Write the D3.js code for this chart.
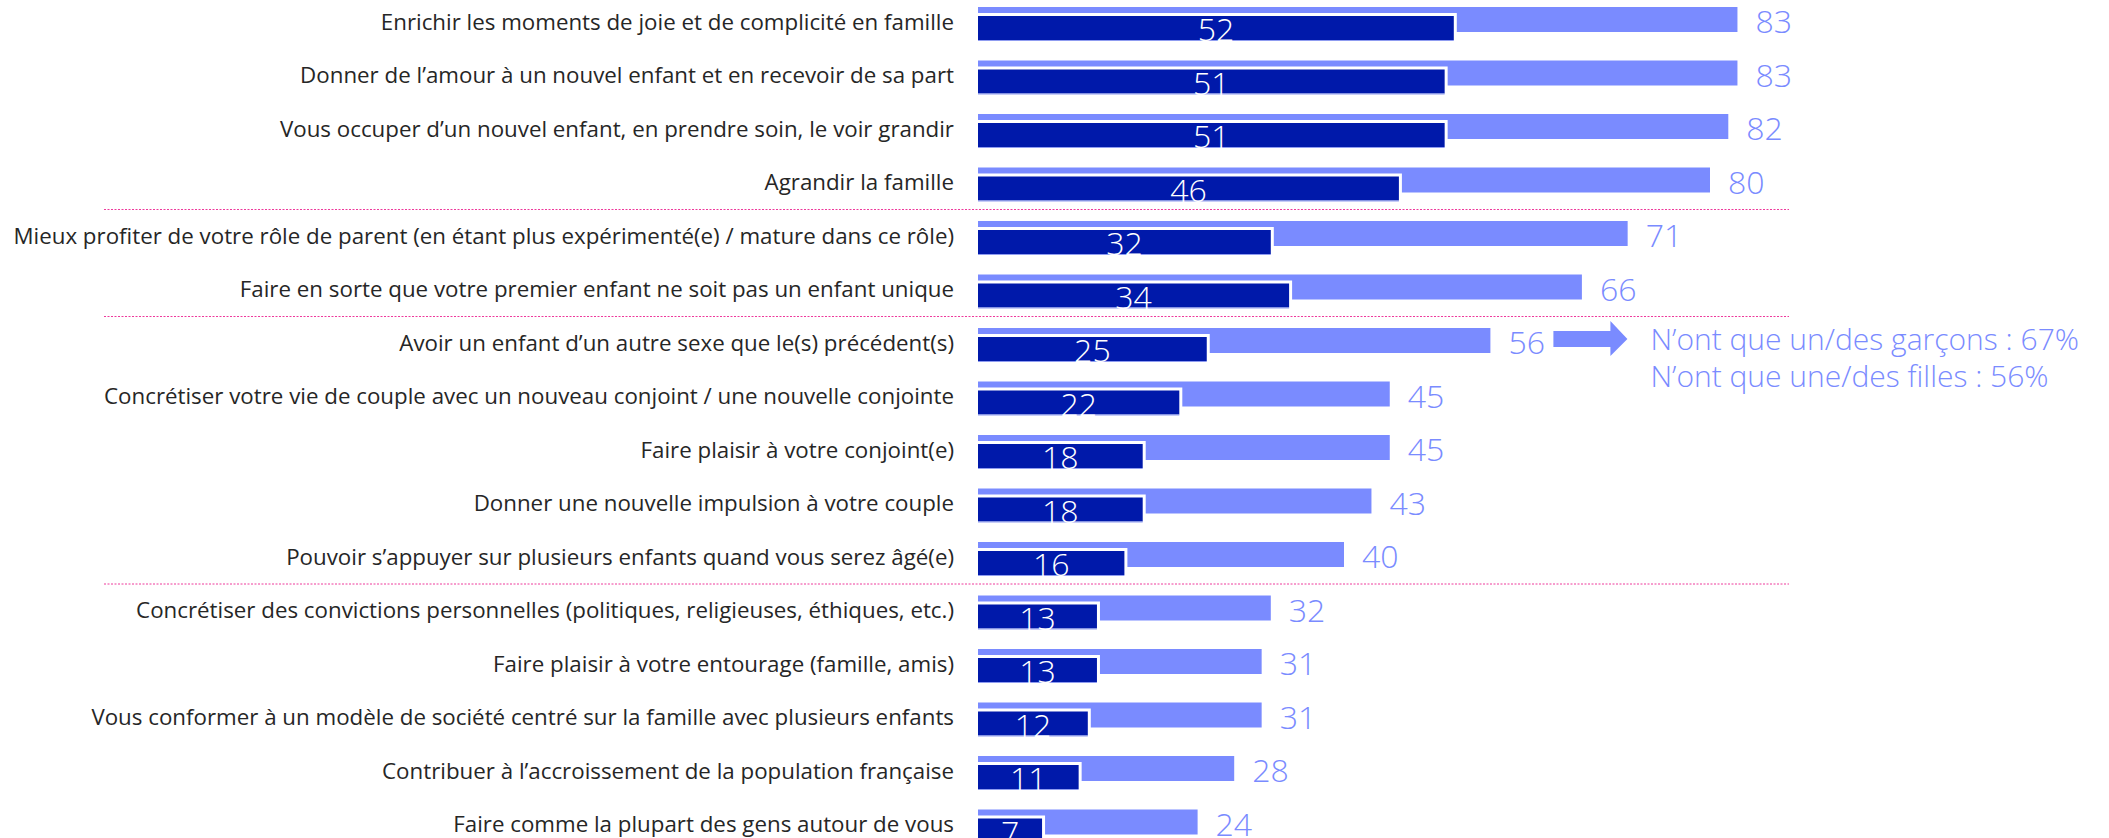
<!DOCTYPE html>
<html lang="fr">
<head>
<meta charset="utf-8">
<title>Raisons d'avoir un enfant supplémentaire</title>
<script src="https://cdn.jsdelivr.net/npm/d3@7/dist/d3.min.js"></script>
<style>
  html, body { margin: 0; padding: 0; background: #ffffff; }
  svg { display: block; }
</style>
</head>
<body>
<svg id="chart" width="2109" height="838"></svg>
<script>
// Motivations, from the most to the least cited
const categories = [
  "Enrichir les moments de joie et de complicité en famille",
  "Donner de l’amour à un nouvel enfant et en recevoir de sa part",
  "Vous occuper d’un nouvel enfant, en prendre soin, le voir grandir",
  "Agrandir la famille",
  "Mieux profiter de votre rôle de parent (en étant plus expérimenté(e) / mature dans ce rôle)",
  "Faire en sorte que votre premier enfant ne soit pas un enfant unique",
  "Avoir un enfant d’un autre sexe que le(s) précédent(s)",
  "Concrétiser votre vie de couple avec un nouveau conjoint / une nouvelle conjointe",
  "Faire plaisir à votre conjoint(e)",
  "Donner une nouvelle impulsion à votre couple",
  "Pouvoir s’appuyer sur plusieurs enfants quand vous serez âgé(e)",
  "Concrétiser des convictions personnelles (politiques, religieuses, éthiques, etc.)",
  "Faire plaisir à votre entourage (famille, amis)",
  "Vous conformer à un modèle de société centré sur la famille avec plusieurs enfants",
  "Contribuer à l’accroissement de la population française",
  "Faire comme la plupart des gens autour de vous"
];

// Total citations (%)
const totalValues = [83, 83, 82, 80, 71, 66, 56, 45, 45, 43, 40, 32, 31, 31, 28, 24];

// Of which "tout à fait" (%)
const strongValues = [52, 51, 51, 46, 32, 34, 25, 22, 18, 18, 16, 13, 13, 12, 11, 7];

// Group boundaries: a dotted rule is drawn before these rows
const groupBreaks = [4, 6, 11];

// Detail shown next to the "autre sexe" row
const noteRow = 6;
const noteLines = [
  "N’ont que un/des garçons : 67%",
  "N’ont que une/des filles : 56%"
];

const COLOR_TOTAL = "#7a8bff";
const COLOR_STRONG = "#0019aa";
const COLOR_TEXT = "#262626";
const COLOR_RULE = "#ee3a9c";
const FONT = "'Open Sans', 'Noto Sans', 'DejaVu Sans', sans-serif";

const svg = d3.select("#chart");

const x = d3.scaleLinear().domain([0, 100]).range([978, 1893]);
const y = d3.scaleBand()
  .domain(categories)
  .range([7, 7 + categories.length * 53.5])
  .paddingInner(0)
  .paddingOuter(0);

const rows = categories.map((c, i) => ({
  cat: c, total: totalValues[i], strong: strongValues[i], i
}));

// Category labels, font size chosen so the longest label fills the label column
const labelRight = 954;
const labelWidth = 941;
const labels = svg.append("g")
  .attr("font-family", FONT)
  .attr("fill", COLOR_TEXT);

const probe = labels.append("text").attr("font-size", 20).text(categories[0]);
const longest = d3.max(categories, c => { probe.text(c); return probe.node().getComputedTextLength(); });
probe.remove();
const labelSize = Math.min(24, 20 * labelWidth / longest);

labels.selectAll("text")
  .data(rows)
  .join("text")
  .attr("x", labelRight)
  .attr("y", d => y(d.cat) + 14)
  .attr("text-anchor", "end")
  .attr("dominant-baseline", "central")
  .attr("font-size", labelSize)
  .text(d => d.cat);

// Dotted group separators
svg.append("g")
  .selectAll("line")
  .data(groupBreaks)
  .join("line")
  .attr("x1", 104)
  .attr("x2", 1789)
  .attr("y1", i => y(categories[i]) - 11.5)
  .attr("y2", i => y(categories[i]) - 11.5)
  .attr("stroke", COLOR_RULE)
  .attr("stroke-width", 1)
  .attr("stroke-dasharray", "2 1.5");

// Total bars (light)
svg.append("g")
  .selectAll("rect")
  .data(rows)
  .join("rect")
  .attr("x", x(0))
  .attr("y", d => y(d.cat))
  .attr("width", d => x(d.total) - x(0))
  .attr("height", 25)
  .attr("fill", COLOR_TOTAL);

// White halo behind the strong bars
svg.append("g")
  .selectAll("rect")
  .data(rows)
  .join("rect")
  .attr("x", x(0))
  .attr("y", d => y(d.cat) + 6)
  .attr("width", d => x(d.strong) - x(0) + 3)
  .attr("height", 27)
  .attr("fill", "#ffffff");

// Strong bars (dark)
svg.append("g")
  .selectAll("rect")
  .data(rows)
  .join("rect")
  .attr("x", x(0))
  .attr("y", d => y(d.cat) + 9)
  .attr("width", d => x(d.strong) - x(0))
  .attr("height", 24)
  .attr("fill", COLOR_STRONG);

// Thin light edge under the strong bars
svg.append("g")
  .selectAll("line")
  .data(rows)
  .join("line")
  .attr("x1", x(0))
  .attr("x2", d => x(d.strong))
  .attr("y1", d => y(d.cat) + 33.5)
  .attr("y2", d => y(d.cat) + 33.5)
  .attr("stroke", "#8f9cf0")
  .attr("stroke-width", 1);

// Values inside the strong bars
svg.append("g")
  .attr("font-family", FONT)
  .attr("font-weight", 300)
  .attr("font-size", 32)
  .attr("fill", "#ffffff")
  .selectAll("text")
  .data(rows)
  .join("text")
  .attr("x", d => (x(0) + x(d.strong)) / 2)
  .attr("y", d => y(d.cat) + 34)
  .attr("text-anchor", "middle")
  .text(d => d.strong);

// Values after the total bars
svg.append("g")
  .attr("font-family", FONT)
  .attr("font-weight", 300)
  .attr("font-size", 32)
  .attr("fill", COLOR_TOTAL)
  .selectAll("text")
  .data(rows)
  .join("text")
  .attr("x", d => x(d.total) + 18)
  .attr("y", d => y(d.cat) + 26)
  .text(d => d.total);

// Arrow and note for the "autre sexe" row
const noteY = y(categories[noteRow]);
const arrowX = x(totalValues[noteRow]) + 63;
const arrow = d3.path();
arrow.moveTo(arrowX, noteY + 3);
arrow.lineTo(arrowX + 57, noteY + 3);
arrow.lineTo(arrowX + 57, noteY - 7);
arrow.lineTo(arrowX + 74, noteY + 11);
arrow.lineTo(arrowX + 57, noteY + 28);
arrow.lineTo(arrowX + 57, noteY + 19);
arrow.lineTo(arrowX, noteY + 19);
arrow.closePath();
svg.append("path")
  .attr("d", arrow.toString())
  .attr("fill", COLOR_TOTAL);

const note = svg.append("text")
  .attr("font-family", FONT)
  .attr("font-weight", 300)
  .attr("fill", COLOR_TOTAL)
  .attr("font-size", 26)
  .attr("x", arrowX + 97)
  .attr("y", noteY + 22);
const noteProbe = note.append("tspan").text(noteLines[0]);
const noteW = noteProbe.node().getComputedTextLength();
noteProbe.remove();
note.attr("font-size", Math.min(30, 26 * 452 / noteW));
note.selectAll("tspan")
  .data(noteLines)
  .join("tspan")
  .attr("x", arrowX + 97)
  .attr("dy", (d, i) => i === 0 ? 0 : 37)
  .text(d => d);
</script>
</body>
</html>
